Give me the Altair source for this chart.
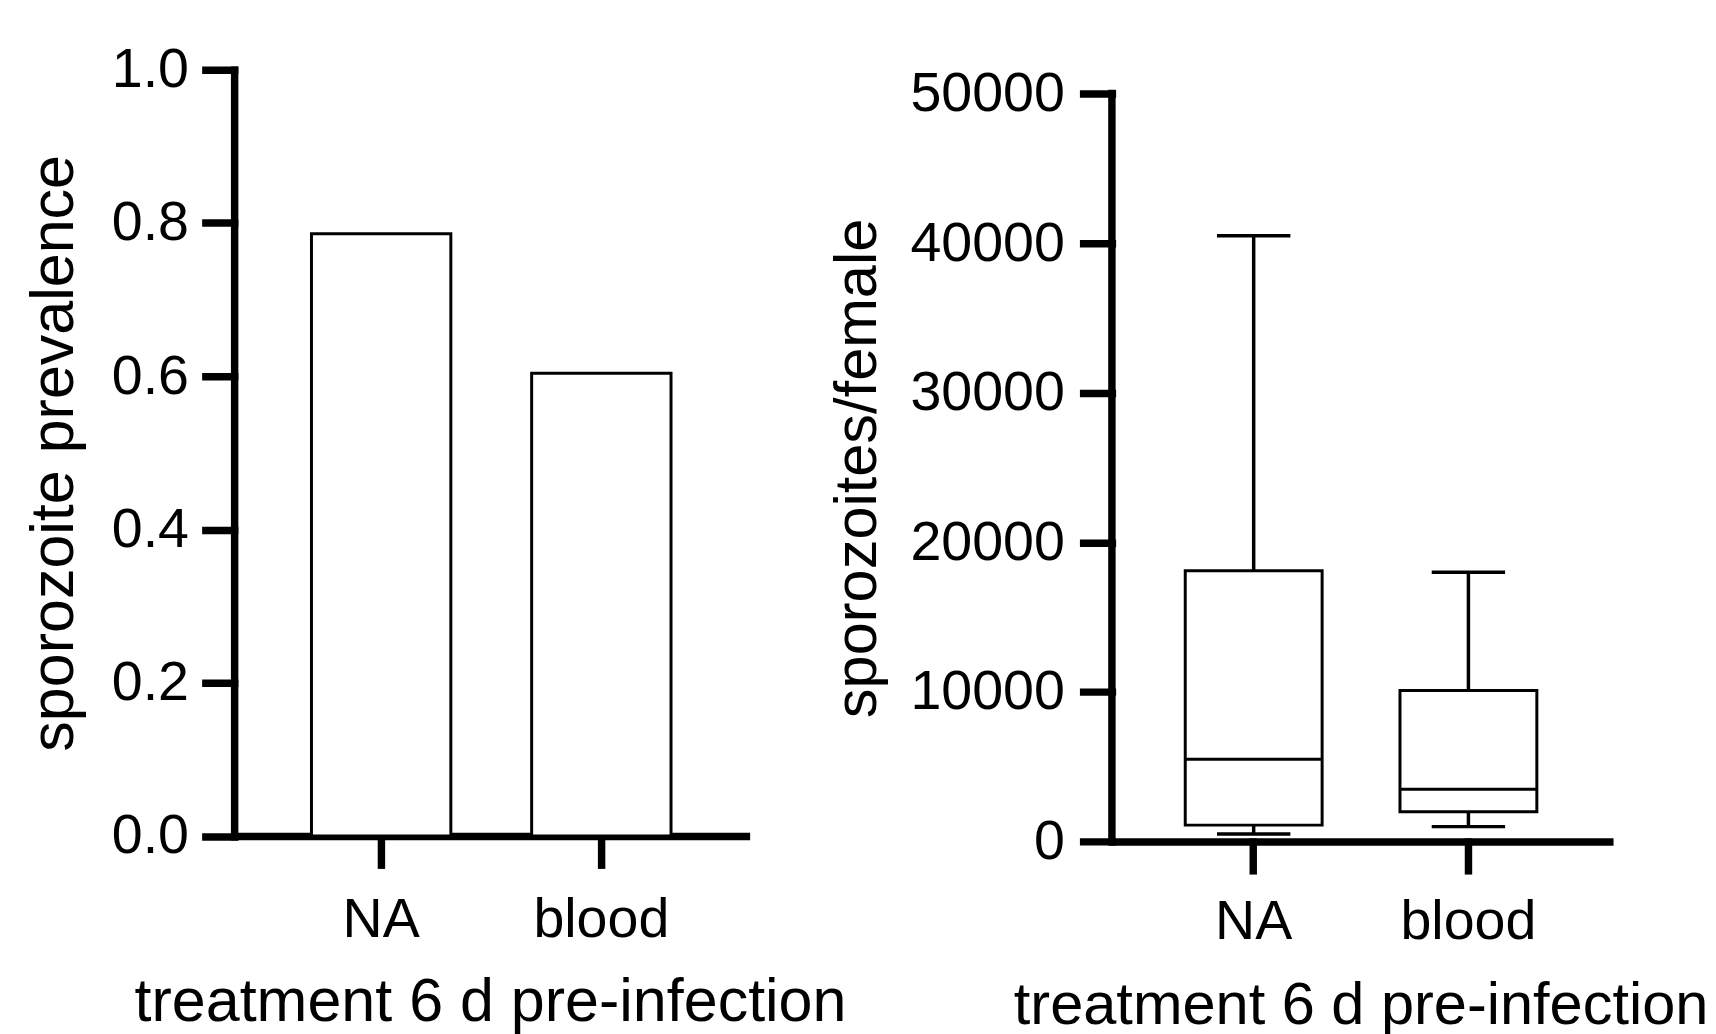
import altair as alt
import pandas as pd

# ---- data ----
categories = ["NA", "blood"]
prevalence = [0.786, 0.604]

whisker_low = [500, 1000]
q1 = [1100, 2000]
median = [5500, 3500]
q3 = [18100, 10100]
whisker_high = [40500, 18000]

prev_ticks = [0.0, 0.2, 0.4, 0.6, 0.8, 1.0]
count_ticks = [0, 10000, 20000, 30000, 40000, 50000]
count_axis_range = [0, 50000]

FONT = "Liberation Sans"
LABEL_SIZE = 56

df_prev = pd.DataFrame({"treatment": categories, "prevalence": prevalence})
df_box = pd.DataFrame({
    "treatment": categories,
    "whisker_low": whisker_low,
    "q1": q1,
    "median": median,
    "q3": q3,
    "whisker_high": whisker_high,
})
df_axis = pd.DataFrame({"lo": [count_axis_range[0]], "hi": [count_axis_range[1]]})

# ---- left panel: prevalence bars ----
x_left = alt.X(
    "treatment:N", sort=categories,
    scale=alt.Scale(paddingInner=0.367, paddingOuter=0.3457, align=0.508),
    axis=alt.Axis(
        title="treatment 6 d pre-infection", labelAngle=0,
        labelBaseline="alphabetic", labelPadding=72,
        titleY=186, titleBaseline="alphabetic", titleFontSize=61.5,
    ),
)
y_left = alt.Y(
    "prevalence:Q",
    scale=alt.Scale(domain=[0, 1], nice=False),
    axis=alt.Axis(
        values=prev_ticks, format=".1f", title="sporozoite prevalence",
        labelPadding=17, titleX=-181, titleY=386.25, titleAngle=270,
        titleAlign="center", titleBaseline="middle", titleFontSize=61.5,
    ),
)
left = alt.Chart(df_prev).mark_bar(
    fill="white", stroke="black", strokeWidth=3
).encode(x=x_left, y=y_left).properties(width=516, height=772.5)

# ---- right panel: box plot ----
yscale = alt.Scale(domain=[0, 51591], nice=False)
yaxis_right = alt.Axis(
    values=count_ticks, format="d", title="sporozoites/female", domain=False,
    labelPadding=19, titleX=-256, titleY=401.5, titleAngle=270,
    titleAlign="center", titleBaseline="middle", titleFontSize=60,
)
xaxis_right = alt.Axis(
    title="treatment 6 d pre-infection", labelAngle=0,
    labelBaseline="alphabetic", labelPadding=69,
    titleY=183, titleBaseline="alphabetic", titleFontSize=60,
)
xscale_right = alt.Scale(paddingInner=0.3626, paddingOuter=0.3395, align=0.503)


def rx():
    return alt.X("treatment:N", sort=categories, scale=xscale_right, axis=xaxis_right)


def ry(field):
    return alt.Y(field + ":Q", scale=yscale, axis=yaxis_right)


base = alt.Chart(df_box)
whisk_hi = base.mark_rule(stroke="black", strokeWidth=3.5).encode(
    x=rx(), y=ry("q3"), y2="whisker_high:Q")
whisk_lo = base.mark_rule(stroke="black", strokeWidth=3.5).encode(
    x=rx(), y=ry("whisker_low"), y2="q1:Q")
box = base.mark_bar(fill="white", stroke="black", strokeWidth=3).encode(
    x=rx(), y=ry("q1"), y2="q3:Q")
med = base.mark_tick(color="black", thickness=3, size=138, opacity=1).encode(
    x=rx(), y=ry("median"))
cap_hi = base.mark_tick(color="black", thickness=3.5, size=74, opacity=1).encode(
    x=rx(), y=ry("whisker_high"))
cap_lo = base.mark_tick(color="black", thickness=3.5, size=74, opacity=1).encode(
    x=rx(), y=ry("whisker_low"))
yline = alt.Chart(df_axis).mark_rule(
    stroke="black", strokeWidth=7.5, strokeCap="square"
).encode(x=alt.value(0), y=ry("lo"), y2="hi:Q")

right = alt.layer(whisk_hi, whisk_lo, box, med, cap_hi, cap_lo, yline).properties(
    width=501.5, height=778.2)

chart = alt.hconcat(left, right, spacing=369, bounds="flush").properties(
    padding={"left": 16, "top": 30, "right": 0, "bottom": 0},
    background="white",
).configure_view(stroke=None).configure_axis(
    grid=False,
    domainColor="black", domainWidth=7.5, domainCap="square",
    tickColor="black", tickWidth=7.5, tickSize=29, tickCap="square",
    labelFont=FONT, labelFontSize=LABEL_SIZE, labelColor="black",
    titleFont=FONT, titleColor="black", titleFontWeight="normal",
)

chart.save("out.html", embed_options={"renderer": "svg", "actions": False})
